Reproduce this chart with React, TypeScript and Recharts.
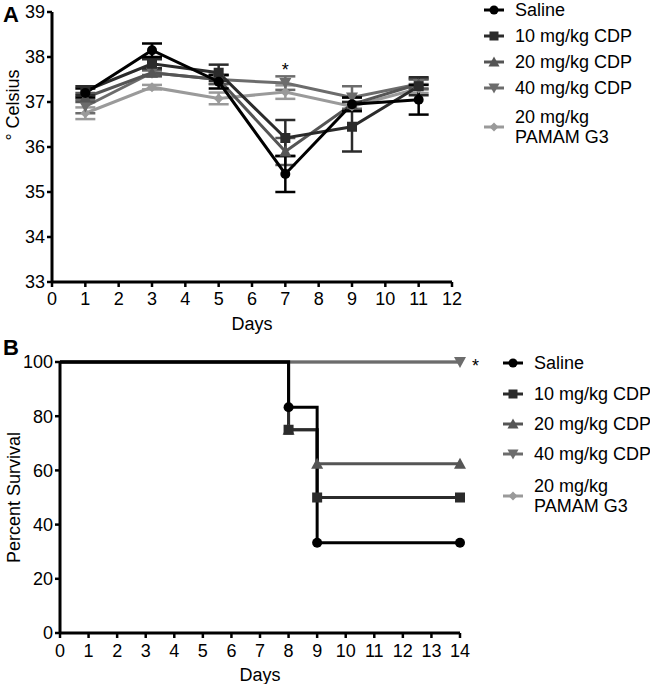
import React from 'react';
import { LineChart, Line, XAxis, YAxis, ErrorBar, ReferenceDot, Label } from 'recharts';

// ---- panel A: body temperature ----
const tempDays = [1, 3, 5, 7, 9, 11];
const salineTemp = [37.2, 38.15, 37.45, 35.4, 36.95, 37.05];
const salineErr = [0.1, 0.15, 0.15, 0.4, 0.15, 0.33];
const cdp10Temp = [37.25, 37.85, 37.65, 36.2, 36.45, 37.35];
const cdp10Err = [0.1, 0.1, 0.18, 0.4, 0.55, 0.2];
const cdp20Temp = [37.1, 37.65, 37.5, 35.9, 36.95, 37.4];
const cdp20Err = [0.1, 0.08, 0.1, 0.3, 0.15, 0.1];
const cdp40Temp = [36.9, 37.65, 37.5, 37.42, 37.1, 37.4];
const cdp40Err = [0.15, 0.05, 0.1, 0.15, 0.25, 0.12];
const pamamTemp = [36.75, 37.33, 37.08, 37.22, 36.9, 37.3];
const pamamErr = [0.13, 0.05, 0.13, 0.15, 0.1, 0.1];

const tempTicksX = [0, 1, 2, 3, 4, 5, 6, 7, 8, 9, 10, 11, 12];
const tempTicksY = [33, 34, 35, 36, 37, 38, 39];

// ---- panel B: survival ----
const salineSurvDays = [0, 8, 9, 14];
const salineSurv = [100, 83.3, 33.3, 33.3];
const cdp10SurvDays = [0, 8, 9, 14];
const cdp10Surv = [100, 75, 50, 50];
const cdp20SurvDays = [0, 8, 9, 14];
const cdp20Surv = [100, 75, 62.5, 62.5];
const cdp40SurvDays = [0, 14];
const cdp40Surv = [100, 100];
const pamamSurvDays = [0, 14];
const pamamSurv = [100, 100];

const survTicksX = [0, 1, 2, 3, 4, 5, 6, 7, 8, 9, 10, 11, 12, 13, 14];
const survTicksY = [0, 20, 40, 60, 80, 100];

const series = [
  { key: 'saline', name: ['Saline'], color: '#000000', shape: 'circle', temp: salineTemp, err: salineErr, sDays: salineSurvDays, surv: salineSurv },
  { key: 'cdp10', name: ['10 mg/kg CDP'], color: '#2b2b2b', shape: 'square', temp: cdp10Temp, err: cdp10Err, sDays: cdp10SurvDays, surv: cdp10Surv },
  { key: 'cdp20', name: ['20 mg/kg CDP'], color: '#555555', shape: 'up', temp: cdp20Temp, err: cdp20Err, sDays: cdp20SurvDays, surv: cdp20Surv },
  { key: 'cdp40', name: ['40 mg/kg CDP'], color: '#6c6c6c', shape: 'down', temp: cdp40Temp, err: cdp40Err, sDays: cdp40SurvDays, surv: cdp40Surv },
  { key: 'pamam', name: ['20 mg/kg', 'PAMAM G3'], color: '#9a9a9a', shape: 'diamond', temp: pamamTemp, err: pamamErr, sDays: pamamSurvDays, surv: pamamSurv },
];

const tempRows = tempDays.map((day, i) => {
  const row: any = { day };
  series.forEach(s => {
    row[s.key] = s.temp[i];
    row[s.key + 'Err'] = s.err[i];
  });
  return row;
});

const FONT = '"Liberation Sans", Arial, sans-serif';
const FS = 18;
const drawOrder = [...series].reverse();

function Marker({ cx, cy, shape, color, s = 5 }: any) {
  if (cx == null || cy == null) return null;
  switch (shape) {
    case 'circle':
      return <circle cx={cx} cy={cy} r={s} fill={color} />;
    case 'square':
      return <rect x={cx - s} y={cy - s} width={2 * s} height={2 * s} fill={color} />;
    case 'up':
      return <polygon points={`${cx},${cy - s - 1} ${cx + s + 1},${cy + s} ${cx - s - 1},${cy + s}`} fill={color} />;
    case 'down':
      return <polygon points={`${cx},${cy + s + 1} ${cx + s + 1},${cy - s} ${cx - s - 1},${cy - s}`} fill={color} />;
    default:
      return <polygon points={`${cx},${cy - s} ${cx + s},${cy} ${cx},${cy + s} ${cx - s},${cy}`} fill={color} />;
  }
}

function Legend({ left, rowCenters }: { left: number; rowCenters: number[] }) {
  return (
    <>
      {series.map((s, i) => (
        <div
          key={s.key}
          style={{
            position: 'absolute', left, top: rowCenters[i], transform: 'translateY(-50%)', whiteSpace: 'nowrap',
            display: 'flex', alignItems: 'center', fontFamily: FONT, fontSize: FS, lineHeight: '20px', color: '#000',
          }}
        >
          <svg width={22} height={14} style={{ marginRight: 10, flexShrink: 0 }}>
            <line x1={1} y1={7} x2={21} y2={7} stroke={s.color} strokeWidth={3} />
            <Marker cx={11} cy={7} shape={s.shape} color={s.color} s={4.5} />
          </svg>
          <div>{s.name.map(n => <div key={n}>{n}</div>)}</div>
        </div>
      ))}
    </>
  );
}

const rotatedTitle = (text: string, x: number, dy: number) => (props: any) => {
  const vb = props.viewBox || {};
  const cy = vb.y + vb.height / 2 + dy;
  return (
    <text x={x} y={cy} transform={`rotate(-90 ${x} ${cy})`} textAnchor="middle" dominantBaseline="central"
      fontSize={FS} fill="#000" fontFamily={FONT}>
      {text}
    </text>
  );
};

const axisLine = { stroke: '#000', strokeWidth: 3 };
const tickLine = { stroke: '#000', strokeWidth: 2.5 };
const tickStyle = { fill: '#000', fontSize: FS, fontFamily: FONT };

export default function App() {
  return (
    <div style={{ position: 'absolute', left: 0, top: 0, width: 650, height: 684, background: '#fff', fontFamily: FONT }}>
      <div style={{ position: 'absolute', left: 3, top: 2, fontSize: 22, fontWeight: 'bold' }}>A</div>
      <div style={{ position: 'absolute', left: 3, top: 335, fontSize: 22, fontWeight: 'bold' }}>B</div>

      <div style={{ position: 'absolute', left: 0, top: 0 }}>
        <LineChart width={650} height={335} data={tempRows} margin={{ top: 12, right: 198, bottom: 0, left: 0 }} style={{ fontFamily: FONT }}>
          <XAxis dataKey="day" type="number" domain={[0, 12]} ticks={tempTicksX} interval={0} height={53}
            axisLine={axisLine} tickLine={tickLine} tickSize={5} tickMargin={5} tick={tickStyle}>
            <Label value="Days" position="insideBottom" offset={5} style={{ fill: '#000', fontSize: FS }} />
          </XAxis>
          <YAxis type="number" domain={[33, 39]} ticks={tempTicksY} interval={0} width={52}
            axisLine={axisLine} tickLine={tickLine} tickSize={5} tickMargin={2} tick={tickStyle}>
            <Label content={rotatedTitle('° Celsius', 13, -42)} />
          </YAxis>
          {drawOrder.map(s => (
            <Line key={s.key} dataKey={s.key} stroke={s.color} strokeWidth={3} isAnimationActive={false}
              dot={(p: any) => <Marker key={p.index} cx={p.cx} cy={p.cy} shape={s.shape} color={s.color} />}
              activeDot={false}>
              <ErrorBar dataKey={s.key + 'Err'} direction="y" width={10} stroke={s.color} strokeWidth={2.5} />
            </Line>
          ))}
          <ReferenceDot x={7} y={37.72} r={0} fill="none" stroke="none"
            label={{ value: '*', position: 'center', fill: '#000', fontSize: FS }} />
        </LineChart>
      </div>
      <Legend left={483} rowCenters={[10, 36, 62, 88, 127]} />

      <div style={{ position: 'absolute', left: 0, top: 335 }}>
        <LineChart width={650} height={349} margin={{ top: 27, right: 190, bottom: 0, left: 0 }} style={{ fontFamily: FONT }}>
          <XAxis dataKey="day" type="number" domain={[0, 14]} ticks={survTicksX} interval={0} height={51}
            axisLine={axisLine} tickLine={tickLine} tickSize={5} tickMargin={6} tick={tickStyle}>
            <Label value="Days" position="insideBottom" offset={3} style={{ fill: '#000', fontSize: FS }} />
          </XAxis>
          <YAxis type="number" domain={[0, 100]} ticks={survTicksY} interval={0} width={60}
            axisLine={axisLine} tickLine={tickLine} tickSize={5} tickMargin={2} tick={tickStyle}>
            <Label content={rotatedTitle('Percent Survival', 14, 0)} />
          </YAxis>
          {drawOrder.map(s => (
            <Line key={s.key} data={s.sDays.map((d, i) => ({ day: d, v: s.surv[i] }))} dataKey="v" type="stepAfter"
              stroke={s.color} strokeWidth={3} isAnimationActive={false} activeDot={false}
              dot={s.key === 'pamam' ? false : (p: any) =>
                p.payload.day === 0 ? <g key={p.index} /> :
                  <Marker key={p.index} cx={p.cx} cy={p.cy} shape={s.shape} color={s.color} />} />
          ))}
          <ReferenceDot x={14} y={100} r={0} fill="none" stroke="none"
            label={{ value: '*', position: 'right', offset: 12, dy: 4, fill: '#000', fontSize: FS }} />
        </LineChart>
      </div>
      <Legend left={502} rowCenters={[363, 394, 424, 454, 496]} />
    </div>
  );
}
